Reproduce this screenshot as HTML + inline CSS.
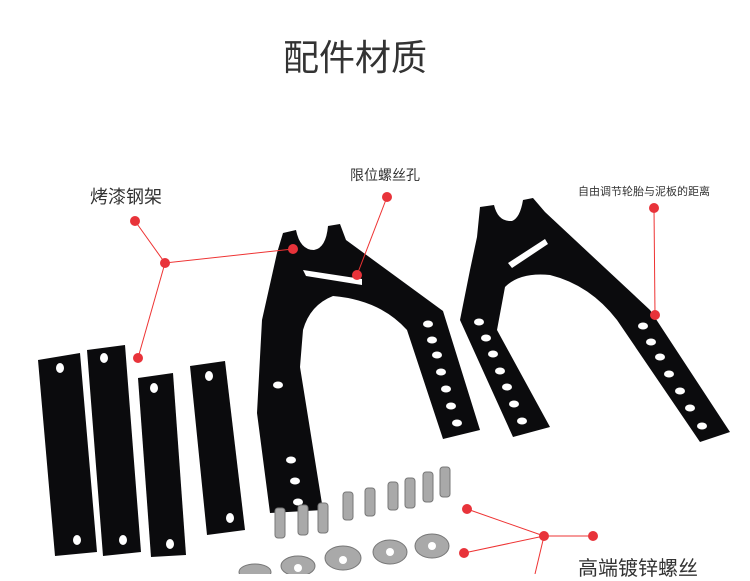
<!DOCTYPE html>
<html><head><meta charset="utf-8"><style>
html,body{margin:0;padding:0;background:#fff;}
body{width:750px;height:574px;overflow:hidden;position:relative;font-family:"Liberation Sans","Noto Sans CJK SC",sans-serif;}
.t{position:absolute;color:#333;white-space:nowrap;}
</style></head><body>
<svg width="750" height="574" style="position:absolute;left:0;top:0">
<g fill="#0b0b0d">
<path d="M283,233 L296,230 Q300,250 314,250 Q326,248 328,226 L340,224 L346,240 L443,311 L480,430 L443,439 L407,330 Q380,300 333,296 Q310,305 303,330 L300,367 L323,510 L270,513 L257,413 L262,320 L277,253 Z"/>
<path d="M480,207 L494,205 Q498,222 512,221 Q520,218 523,200 L533,198 L545,212 L650,310 L730,432 L700,442 L617,320 Q590,285 550,275 Q520,272 505,287 L497,330 L550,427 L513,437 L460,320 L470,270 L477,237 Z"/>
<polygon points="38,360 80,353 97,552 55,556"/>
<polygon points="87,350 125,345 141,552 103,556"/>
<polygon points="138,378 173,373 186,555 151,557"/>
<polygon points="190,366 225,361 245,530 207,535"/>
</g>
<g fill="#fff">
<polygon points="303,270 306,276 362,285 362,279"/>
<polygon points="508,263 512,268 548,244 545,239"/>
<g>
<ellipse cx="428" cy="324" rx="5" ry="3.5"/><ellipse cx="432" cy="340" rx="5" ry="3.5"/><ellipse cx="437" cy="355" rx="5" ry="3.5"/><ellipse cx="441" cy="372" rx="5" ry="3.5"/><ellipse cx="446" cy="389" rx="5" ry="3.5"/><ellipse cx="451" cy="406" rx="5" ry="3.5"/><ellipse cx="457" cy="423" rx="5" ry="3.5"/>
<ellipse cx="479" cy="322" rx="5" ry="3.5"/><ellipse cx="486" cy="338" rx="5" ry="3.5"/><ellipse cx="493" cy="354" rx="5" ry="3.5"/><ellipse cx="500" cy="371" rx="5" ry="3.5"/><ellipse cx="507" cy="387" rx="5" ry="3.5"/><ellipse cx="514" cy="404" rx="5" ry="3.5"/><ellipse cx="522" cy="421" rx="5" ry="3.5"/>
<ellipse cx="643" cy="326" rx="5" ry="3.5"/><ellipse cx="651" cy="342" rx="5" ry="3.5"/><ellipse cx="660" cy="357" rx="5" ry="3.5"/><ellipse cx="669" cy="374" rx="5" ry="3.5"/><ellipse cx="680" cy="391" rx="5" ry="3.5"/><ellipse cx="690" cy="408" rx="5" ry="3.5"/><ellipse cx="702" cy="426" rx="5" ry="3.5"/>
<ellipse cx="278" cy="385" rx="5" ry="3.5"/><ellipse cx="291" cy="460" rx="5" ry="3.5"/><ellipse cx="295" cy="481" rx="5" ry="3.5"/><ellipse cx="298" cy="502" rx="5" ry="3.5"/>
<ellipse cx="60" cy="368" rx="4" ry="5"/><ellipse cx="77" cy="540" rx="4" ry="5"/>
<ellipse cx="104" cy="358" rx="4" ry="5"/><ellipse cx="123" cy="540" rx="4" ry="5"/>
<ellipse cx="154" cy="388" rx="4" ry="5"/><ellipse cx="170" cy="544" rx="4" ry="5"/>
<ellipse cx="209" cy="376" rx="4" ry="5"/><ellipse cx="230" cy="518" rx="4" ry="5"/>
</g></g>
<g fill="#a9a9a9" stroke="#777" stroke-width="1">
<rect x="275" y="508" width="10" height="30" rx="3"/><rect x="298" y="505" width="10" height="30" rx="3"/><rect x="318" y="503" width="10" height="30" rx="3"/>
<rect x="343" y="492" width="10" height="28" rx="3"/><rect x="365" y="488" width="10" height="28" rx="3"/><rect x="388" y="482" width="10" height="28" rx="3"/><rect x="405" y="478" width="10" height="30" rx="3"/><rect x="423" y="472" width="10" height="30" rx="3"/><rect x="440" y="467" width="10" height="30" rx="3"/>
<ellipse cx="255" cy="572" rx="16" ry="8"/><ellipse cx="298" cy="566" rx="17" ry="10"/><ellipse cx="343" cy="558" rx="18" ry="12"/><ellipse cx="390" cy="552" rx="17" ry="12"/><ellipse cx="432" cy="546" rx="17" ry="12"/>
</g>
<g fill="#fff"><circle cx="343" cy="560" r="4"/><circle cx="390" cy="552" r="4"/><circle cx="432" cy="546" r="4"/><circle cx="298" cy="568" r="4"/></g>
<g stroke="#e33" stroke-width="1" fill="none">
<polyline points="135,221 165,263 293,249"/><line x1="165" y1="263" x2="138" y2="358"/>
<line x1="387" y1="197" x2="357" y2="275"/>
<line x1="654" y1="208" x2="655" y2="315"/>
<line x1="467" y1="509" x2="544" y2="536"/><line x1="464" y1="553" x2="544" y2="536"/><line x1="544" y1="536" x2="593" y2="536"/><line x1="544" y1="536" x2="535" y2="574"/>
</g>
<g fill="#e8333a">
<circle cx="135" cy="221" r="5"/><circle cx="165" cy="263" r="5"/><circle cx="293" cy="249" r="5"/><circle cx="138" cy="358" r="5"/>
<circle cx="387" cy="197" r="5"/><circle cx="357" cy="275" r="5"/>
<circle cx="654" cy="208" r="5"/><circle cx="655" cy="315" r="5"/>
<circle cx="467" cy="509" r="5"/><circle cx="464" cy="553" r="5"/><circle cx="544" cy="536" r="5"/><circle cx="593" cy="536" r="5"/>
</g>
</svg>
<div class="t" style="left:283px;top:29px;font-size:36px;">配件材质</div>
<div class="t" style="left:90px;top:183px;font-size:18px;">烤漆钢架</div>
<div class="t" style="left:350px;top:165px;font-size:14px;">限位螺丝孔</div>
<div class="t" style="left:578px;top:183px;font-size:11px;">自由调节轮胎与泥板的距离</div>
<div class="t" style="left:578px;top:552px;font-size:20px;">高端镀锌螺丝</div>
</body></html>
